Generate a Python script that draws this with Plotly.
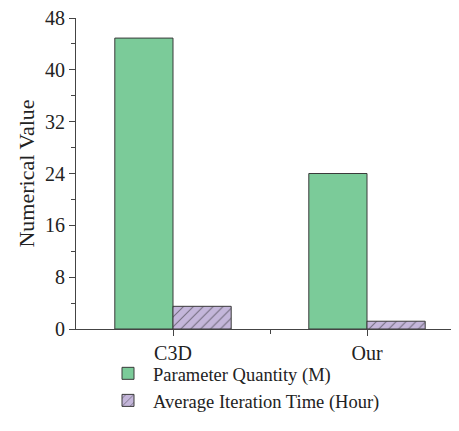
import plotly.graph_objects as go

categories = ["C3D", "Our"]
param_quantity = [44.9, 24.0]
iteration_time = [3.5, 1.2]
series_names = ["Parameter Quantity (M)", "Average Iteration Time (Hour)"]
y_ticks = [0, 8, 16, 24, 32, 40, 48]

xpos = list(range(len(categories)))
FAM = "Liberation Serif, DejaVu Serif, serif"
font = dict(family=FAM, size=20, color="#222")

fig = go.Figure()
fig.add_trace(go.Bar(
    x=xpos, y=param_quantity, name=series_names[0],
    marker=dict(color="#7BCB99", line=dict(color="#3a3a3a", width=1)),
    offsetgroup="a",
))
fig.add_trace(go.Bar(
    x=xpos, y=iteration_time, name=series_names[1],
    marker=dict(color="#C4B6DA", line=dict(color="#3a3a3a", width=1),
                pattern=dict(shape="/", fgcolor="#222", bgcolor="#C4B6DA", size=7, solidity=0.15)),
    offsetgroup="b",
))

fig.update_layout(
    width=443, height=415,
    margin=dict(l=68, r=0, t=10, b=94),
    plot_bgcolor="white", paper_bgcolor="white",
    font=font,
    barmode="group", bargap=0.4, bargroupgap=0,
    showlegend=True,
    legend=dict(x=0.072, y=-0.083, xanchor="left", yanchor="top",
                font=dict(family=FAM, size=18.5, color="#222"),
                tracegroupgap=0, itemwidth=40, bgcolor="rgba(0,0,0,0)"),
    xaxis=dict(
        range=[-0.5, 1.433], tickvals=xpos, ticktext=categories,
        showline=True, linecolor="#444", linewidth=1.2,
        ticks="outside", ticklen=6, tickcolor="#444",
        minor=dict(tickvals=[0.5], ticks="outside", ticklen=4, tickcolor="#444"),
        showgrid=False, zeroline=False, fixedrange=True,
    ),
    yaxis=dict(
        range=[0, 48], tickvals=y_ticks,
        showline=True, linecolor="#444", linewidth=1.2,
        ticks="outside", ticklen=6, tickcolor="#444",
        ticklabeloverflow="allow",
        minor=dict(dtick=4, ticks="outside", ticklen=4, tickcolor="#444", showgrid=False),
        showgrid=False, zeroline=False,
        title=dict(text="Numerical Value", font=dict(size=22), standoff=4),
    ),
)

fig.write_html("out.html")
